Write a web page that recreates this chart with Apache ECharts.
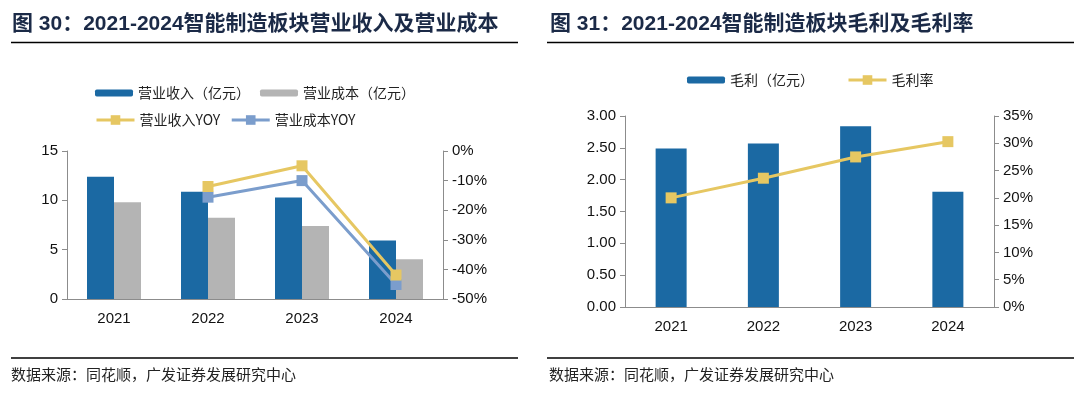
<!DOCTYPE html>
<html>
<head>
<meta charset="utf-8">
<script src="https://cdn.jsdelivr.net/npm/echarts@6/dist/echarts.min.js"></script>
<style>
html,body{margin:0;padding:0;background:#fff;}
#c{width:1074px;height:394px;}
</style>
</head>
<body>
<div id="c"></div>
<script>
// ---- data ----
var years = ['2021', '2022', '2023', '2024'];
var revenue = [12.38, 10.88, 10.29, 5.93];          // 营业收入（亿元）
var cost = [9.80, 8.23, 7.40, 4.04];                 // 营业成本（亿元）
var revenueYoy = [null, -12.0, -5.0, -41.9];         // 营业收入YOY (%)
var costYoy = [null, -15.6, -10.0, -45.1];           // 营业成本YOY (%)
var grossProfit = [2.49, 2.57, 2.84, 1.81];          // 毛利（亿元）
var grossMargin = [20.0, 23.6, 27.5, 30.3];          // 毛利率 (%)
var leftTicks = { min: 0, max: 15, interval: 5 };
var leftTicksR = { min: -50, max: 0, interval: 10 };
var rightTicks = { min: 0, max: 3, interval: 0.5 };
var rightTicksR = { min: 0, max: 35, interval: 5 };
var title1 = '图 30：2021-2024智能制造板块营业收入及营业成本';
var title2 = '图 31：2021-2024智能制造板块毛利及毛利率';
var source = '数据来源：同花顺，广发证券发展研究中心';

var BLUE = '#1b69a3', GREY = '#b4b4b4', YEL = '#e6c762', LBLUE = '#7b9dcc';
var AX = '#8c8c8c';
var NUMFONT = 'Liberation Sans, Arial, sans-serif';
var CJK = '"Noto Sans CJK SC", sans-serif';

function valAxis(grid, cfg, pos, fmt) {
  return {
    type: 'value', gridIndex: grid, position: pos,
    min: cfg.min, max: cfg.max, interval: cfg.interval,
    axisLine: { show: true, lineStyle: { color: AX, width: 1 } },
    axisTick: { show: true, length: 5, lineStyle: { color: AX } },
    splitLine: { show: false },
    axisLabel: { color: '#111', fontSize: 15, fontFamily: NUMFONT, margin: 9, formatter: fmt }
  };
}
function catAxis(grid) {
  return {
    type: 'category', gridIndex: grid, data: years,
    axisLine: { lineStyle: { color: AX, width: 1 } },
    axisTick: { show: false },
    axisLabel: { color: '#111', fontSize: 15, fontFamily: NUMFONT, margin: 12 }
  };
}
var legText = { fontSize: 14, fontFamily: CJK, color: '#222' };

var chart = echarts.init(document.getElementById('c'));
chart.setOption({
  animation: false,
  backgroundColor: '#fff',
  grid: [
    { left: 67, top: 151, width: 376, height: 148 },
    { left: 625, top: 116, width: 369, height: 191 }
  ],
  xAxis: [catAxis(0), catAxis(1)],
  yAxis: [
    valAxis(0, leftTicks, 'left', '{value}'),
    valAxis(0, leftTicksR, 'right', '{value}%'),
    valAxis(1, rightTicks, 'left', function (v) { return v.toFixed(2); }),
    valAxis(1, rightTicksR, 'right', '{value}%')
  ],
  legend: [
    {
      data: ['营业收入（亿元）', '营业成本（亿元）'],
      left: 95, top: 86, padding: 0, itemWidth: 38, itemHeight: 7, itemGap: 10,
      textStyle: Object.assign({ width: 122 }, legText)
    },
    {
      data: ['营业收入YOY', '营业成本YOY'],
      left: 95, top: 113, padding: 0, itemWidth: 38, itemHeight: 12, itemGap: 10,
      lineStyle: { width: 3 },
      textStyle: Object.assign({ width: 122 }, legText)
    },
    {
      data: ['毛利（亿元）'],
      left: 687, top: 73, padding: 0, itemWidth: 38, itemHeight: 7,
      textStyle: legText
    },
    {
      data: ['毛利率'],
      left: 847, top: 73, padding: 0, itemWidth: 38, itemHeight: 12,
      lineStyle: { width: 3 },
      textStyle: legText
    }
  ],
  series: [
    { name: '营业收入（亿元）', type: 'bar', xAxisIndex: 0, yAxisIndex: 0, data: revenue,
      barWidth: 27, barGap: '0%', itemStyle: { color: BLUE } },
    { name: '营业成本（亿元）', type: 'bar', xAxisIndex: 0, yAxisIndex: 0, data: cost,
      barWidth: 27, barGap: '0%', itemStyle: { color: GREY } },
    { name: '营业成本YOY', type: 'line', xAxisIndex: 0, yAxisIndex: 1, data: costYoy,
      symbol: 'rect', symbolSize: 11, lineStyle: { color: LBLUE, width: 3 },
      itemStyle: { color: LBLUE }, z: 3 },
    { name: '营业收入YOY', type: 'line', xAxisIndex: 0, yAxisIndex: 1, data: revenueYoy,
      symbol: 'rect', symbolSize: 11, lineStyle: { color: YEL, width: 3 },
      itemStyle: { color: YEL }, z: 4 },
    { name: '毛利（亿元）', type: 'bar', xAxisIndex: 1, yAxisIndex: 2, data: grossProfit,
      barWidth: 31, itemStyle: { color: BLUE } },
    { name: '毛利率', type: 'line', xAxisIndex: 1, yAxisIndex: 3, data: grossMargin,
      symbol: 'rect', symbolSize: 11, lineStyle: { color: YEL, width: 3 },
      itemStyle: { color: YEL }, z: 4 }
  ],
  graphic: [
    { type: 'text', left: 12, top: 14, style: { text: title1, fill: '#1b2a47',
      font: 'bold 21px "Liberation Sans", "Noto Sans CJK SC", sans-serif' } },
    { type: 'text', left: 550, top: 14, style: { text: title2, fill: '#1b2a47',
      font: 'bold 21px "Liberation Sans", "Noto Sans CJK SC", sans-serif' } },
    { type: 'line', shape: { x1: 11, y1: 42.5, x2: 518, y2: 42.5 }, style: { stroke: '#000', lineWidth: 1.5 } },
    { type: 'line', shape: { x1: 547, y1: 42.5, x2: 1074, y2: 42.5 }, style: { stroke: '#000', lineWidth: 1.5 } },
    { type: 'line', shape: { x1: 11, y1: 358, x2: 518, y2: 358 }, style: { stroke: '#000', lineWidth: 1.5 } },
    { type: 'line', shape: { x1: 547, y1: 358, x2: 1074, y2: 358 }, style: { stroke: '#000', lineWidth: 1.5 } },
    { type: 'text', left: 11, top: 367, style: { text: source, fill: '#222',
      font: '15px "Noto Sans CJK SC", sans-serif' } },
    { type: 'text', left: 549, top: 367, style: { text: source, fill: '#222',
      font: '15px "Noto Sans CJK SC", sans-serif' } }
  ]
});
</script>
</body>
</html>
